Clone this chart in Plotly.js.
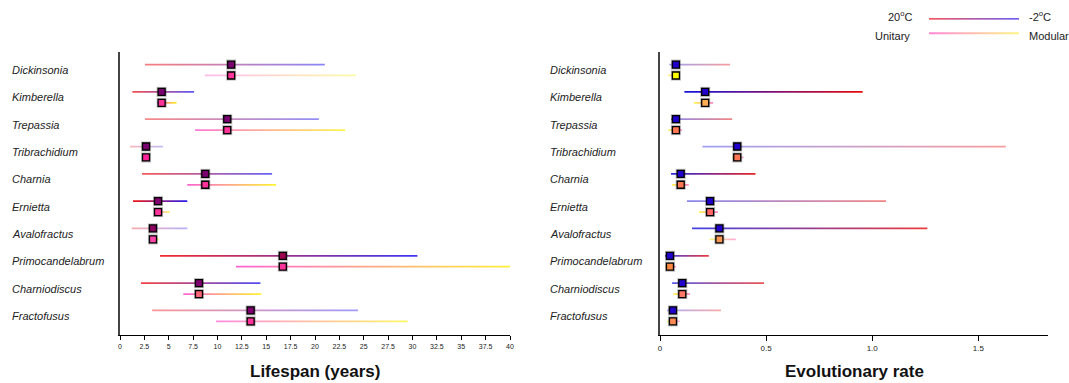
<!DOCTYPE html>
<html><head><meta charset="utf-8">
<script src="https://cdn.plot.ly/plotly-3.0.1.min.js"></script>
<style>html,body{margin:0;padding:0;background:#fff}#chart{width:1069px;height:383px}</style>
</head><body><div id="chart"></div>
<script>
const species = ['Dickinsonia','Kimberella','Trepassia','Tribrachidium','Charnia','Ernietta','Avalofractus','Primocandelabrum','Charniodiscus','Fractofusus'];
// Lifespan (years)
const lifeMean     = [11.4, 4.27, 11.0, 2.67, 8.75, 3.9, 3.38, 16.7, 8.1, 13.4];
const lifeTempLow  = [2.56, 1.27, 2.56, 1.03, 2.26, 1.33, 1.2, 4.1, 2.15, 3.3];
const lifeTempHigh = [21.0, 7.6, 20.4, 4.4, 15.6, 6.9, 6.9, 30.5, 14.4, 24.4];
const lifeModLow   = [8.7, 3.83, 7.7, 2.5, 6.9, 3.6, 3.2, 11.9, 6.5, 9.85];
const lifeModHigh  = [24.2, 5.8, 23.1, 2.9, 16.0, 5.1, 4.0, 40.7, 14.5, 29.5];
// Evolutionary rate
const rateMean     = [0.075, 0.213, 0.075, 0.364, 0.0975, 0.236, 0.28, 0.047, 0.105, 0.061];
const rateTempLow  = [0.044, 0.115, 0.052, 0.2, 0.052, 0.127, 0.151, 0.024, 0.057, 0.033];
const rateTempHigh = [0.33, 0.955, 0.34, 1.63, 0.45, 1.065, 1.26, 0.23, 0.49, 0.287];
const rateModLow   = [0.038, 0.16, 0.038, 0.34, 0.057, 0.184, 0.234, 0.025, 0.063, 0.033];
const rateModHigh  = [0.094, 0.25, 0.104, 0.394, 0.135, 0.273, 0.357, 0.075, 0.141, 0.093];
const lifeTicks = [0,2.5,5,7.5,10,12.5,15,17.5,20,22.5,25,27.5,30,32.5,35,37.5,40];
const rateTicks = [0,0.5,1.0,1.5];
const rateTickText = ['0','0.5','1.0','1.5'];

// styles
const lifeTopAlpha = [0.55,0.75,0.5,0.3,0.7,1.0,0.35,0.9,0.8,0.45];
const lifeBotAlpha = [0.35,0.9,0.7,0.2,0.8,0.6,0.5,0.8,0.8,0.6];
const rateTopAlpha = [0.4,1.0,0.5,0.4,0.9,0.5,0.8,0.8,0.7,0.35];
const rateBotAlpha = [0.5,0.7,0.6,0.5,0.7,0.7,0.5,0.6,0.7,0.5];
const lifeTopCol = ['#7a0070','#7a0070','#7a0070','#7a0070','#7a0070','#800070','#880060','#99004d','#800070','#800070'];
const lifeBotCol = ['#ff3399','#ff3399','#ff3399','#ff2299','#ff3399','#ff3399','#ff44aa','#ff3399','#ff6677','#ff3399'];
const rateTopCol = '#2200cc';
const rateBotCol = ['#ffff00','#ffaa55','#ff7755','#ff7755','#ff7755','#ff6666','#ff9955','#ff8844','#ff7766','#ff8855'];

const H = 0.032, OFF = 0.2;
function rgba(r,g,b,a){return 'rgba('+r+','+g+','+b+','+a+')';}
function band(xa, ya, lo, hi, y, cs, h){
  h = h || H;
  return {type:'scatter', x:[lo,hi,hi,lo,lo], y:[y-h,y-h,y+h,y+h,y-h], fill:'toself', mode:'none',
    fillgradient:{type:'horizontal', colorscale:cs}, xaxis:xa, yaxis:ya, hoverinfo:'skip', showlegend:false};
}
const traces = [];
const idx = species.map((s,i)=>i);
species.forEach((s,i)=>{
  let a = lifeTopAlpha[i];
  traces.push(band('x','y', lifeTempLow[i], lifeTempHigh[i], i-OFF, [[0,rgba(240,20,20,a)],[1,rgba(40,30,240,a)]]));
  a = lifeBotAlpha[i];
  traces.push(band('x','y', lifeModLow[i], lifeModHigh[i], i+OFF, [[0,rgba(255,60,200,a)],[1,rgba(255,240,0,a)]]));
  a = rateTopAlpha[i];
  traces.push(band('x2','y2', rateTempLow[i], rateTempHigh[i], i-OFF, [[0,rgba(20,20,220,a)],[1,rgba(230,10,10,a)]]));
  a = rateBotAlpha[i];
  traces.push(band('x2','y2', rateModLow[i], rateModHigh[i], i+OFF, [[0,rgba(255,240,0,a)],[1,rgba(255,80,180,a)]]));
});
function markers(xa, ya, xs, ys, col){
  traces.push({type:'scatter', mode:'markers', x:xs, y:ys, xaxis:xa, yaxis:ya, hoverinfo:'skip', showlegend:false, cliponaxis:false,
    marker:{symbol:'square', size:10, color:'rgba(0,0,0,0.28)'}});
  traces.push({type:'scatter', mode:'markers', x:xs, y:ys, xaxis:xa, yaxis:ya, showlegend:false, cliponaxis:false,
    marker:{symbol:'square', size:7, color:col, line:{color:'#000', width:1.3}}});
}
markers('x','y', lifeMean, idx.map(i=>i-OFF), lifeTopCol);
markers('x','y', lifeMean, idx.map(i=>i+OFF), lifeBotCol);
markers('x2','y2', rateMean, idx.map(i=>i-OFF), rateTopCol);
markers('x2','y2', rateMean, idx.map(i=>i+OFF), rateBotCol);

// legend gradient bars
traces.push(band('x3','y3', 0, 1, 0.25, [[0,'rgba(240,30,40,1)'],[1,'rgba(60,40,240,1)']], 0.025));
traces.push(band('x3','y3', 0, 1, 0.75, [[0,'rgba(255,120,210,0.9)'],[1,'rgba(255,245,120,0.9)']], 0.035));

const W = 1069, HT = 383;
const yd = [(HT-335)/HT, (HT-52)/HT];
const tickfont = {family:'Liberation Sans, Arial, sans-serif', size:7, color:'#222'};
const yax = {domain:yd, range:[9.7,-0.66], showticklabels:false, ticks:'', showgrid:false, zeroline:false,
  showline:true, linecolor:'#444', linewidth:1.6};
const annotations = [];
species.forEach((s,i)=>{
  annotations.push({xref:'paper', yref:'y', x:10/W, y:i, xanchor:'left', yanchor:'middle', showarrow:false, text:s,
    font:{family:'Liberation Sans, Arial, sans-serif', size:11, color:'#222', style:'italic'}});
  annotations.push({xref:'paper', yref:'y2', x:548/W, y:i, xanchor:'left', yanchor:'middle', showarrow:false, text:s,
    font:{family:'Liberation Sans, Arial, sans-serif', size:11, color:'#222', style:'italic'}});
});
const titleFont = {family:'Liberation Sans, Arial, sans-serif', size:17, color:'#111', weight:'bold'};
annotations.push({xref:'paper', yref:'paper', x:315/W, y:(HT-371)/HT, xanchor:'center', yanchor:'middle', showarrow:false, text:'<b>Lifespan (years)</b>', font:titleFont});
annotations.push({xref:'paper', yref:'paper', x:854/W, y:(HT-371)/HT, xanchor:'center', yanchor:'middle', showarrow:false, text:'<b>Evolutionary rate</b>', font:titleFont});
const legFont = {family:'Liberation Sans, Arial, sans-serif', size:11, color:'#222'};
annotations.push({xref:'paper', yref:'paper', x:915/W, y:(HT-16)/HT, xanchor:'right', yanchor:'middle', showarrow:false, text:'20<sup>o</sup>C', font:legFont});
annotations.push({xref:'paper', yref:'paper', x:1027/W, y:(HT-16)/HT, xanchor:'left', yanchor:'middle', showarrow:false, text:'-2<sup>o</sup>C', font:legFont});
annotations.push({xref:'paper', yref:'paper', x:912/W, y:(HT-36)/HT, xanchor:'right', yanchor:'middle', showarrow:false, text:'Unitary', font:legFont});
annotations.push({xref:'paper', yref:'paper', x:1027/W, y:(HT-36)/HT, xanchor:'left', yanchor:'middle', showarrow:false, text:'Modular', font:legFont});

const layout = {
  width:W, height:HT, margin:{l:0,r:0,t:0,b:0}, paper_bgcolor:'#fff', plot_bgcolor:'rgba(0,0,0,0)', showlegend:false,
  xaxis:{domain:[120/W, 510/W], range:[0,40], tickvals:lifeTicks, ticks:'outside', ticklen:4, tickwidth:1, tickcolor:'#000',
    tickfont:tickfont, showgrid:false, zeroline:false, showline:true, linecolor:'#000', linewidth:1.3, anchor:'y'},
  yaxis:Object.assign({}, yax, {anchor:'x'}),
  xaxis2:{domain:[660/W, 1048.3/W], range:[0,1.83], tickvals:rateTicks, ticktext:rateTickText, ticks:'outside', ticklen:5, tickwidth:1, tickcolor:'#000',
    tickfont:Object.assign({}, tickfont, {size:8}), showgrid:false, zeroline:false, showline:true, linecolor:'#000', linewidth:1.3, anchor:'y2'},
  yaxis2:Object.assign({}, yax, {anchor:'x2'}),
  xaxis3:{domain:[929/W, 1019/W], range:[0,1], visible:false, anchor:'y3', fixedrange:true},
  yaxis3:{domain:[(HT-46)/HT, (HT-6)/HT], range:[1.2,-0.2], visible:false, anchor:'x3', fixedrange:true},
  annotations:annotations
};
Plotly.newPlot('chart', traces, layout, {displayModeBar:false, staticPlot:true});
</script></body></html>
